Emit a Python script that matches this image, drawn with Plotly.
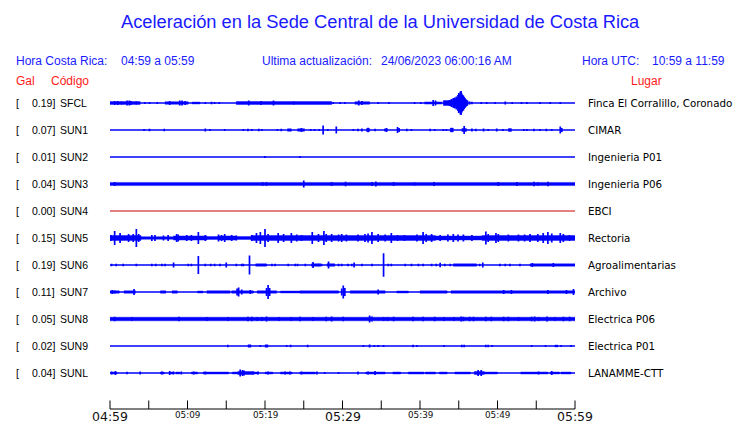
import plotly.graph_objects as go

# ---------------- data ----------------
codes = ["SFCL", "SUN1", "SUN2", "SUN3", "SUN4", "SUN5", "SUN6", "SUN7", "SUN8", "SUN9", "SUNL"]
gal = ["0.19", "0.07", "0.01", "0.04", "0.00", "0.15", "0.19", "0.11", "0.05", "0.02", "0.04"]
places = ["Finca El Corralillo, Coronado", "CIMAR", "Ingenieria P01", "Ingenieria P06", "EBCI",
          "Rectoria", "Agroalimentarias", "Archivo", "Electrica P06", "Electrica P01", "LANAMME-CTT"]

tick_minutes = [0, 5, 10, 15, 20, 25, 30, 35, 40, 45, 50, 55, 60]
time_label_minutes = [0, 10, 20, 30, 40, 50, 60]
time_labels = ["04:59", "05:09", "05:19", "05:29", "05:39", "05:49", "05:59"]
major_labels = ["04:59", "05:29", "05:59"]

# envelopes: bands (t_start_min, t_end_min, half amplitude) and spikes (t_min, half amplitude)
SFCL_bands = [(0.0, 3.9, 1.4), (7.1, 10.1, 1.3), (10.6, 11.6, 1.0), (16.3, 28.6, 1.5), (31.6, 33.5, 1.3),
              (40.6, 42.8, 1.1), (43.0, 46.2, 2.5)]
SFCL_spikes = [(0.6, 2.0), (1.0, 2.0), (1.5, 1.5), (2.2, 2.5), (2.5, 2.5), (2.7, 2.0), (3.4, 1.5), (4.5, 1.0),
               (5.1, 1.0), (6.1, 1.0), (7.7, 2.0), (9.0, 2.5), (9.3, 2.5), (9.7, 2.0), (12.3, 1.0), (13.1, 1.2),
               (13.5, 1.0), (14.1, 1.0), (17.9, 2.5), (19.5, 2.0), (21.1, 2.5), (23.7, 1.5), (28.8, 1.0),
               (29.7, 1.0), (30.3, 1.0), (32.1, 2.5), (32.5, 2.0), (34.6, 1.0), (36.0, 1.0), (39.3, 1.0),
               (40.1, 1.0), (41.7, 3.0), (42.0, 2.5), (43.2, 1.5), (43.4, 2.0), (43.6, 2.0), (43.8, 3.0),
               (44.0, 3.5), (44.1, 4.0), (44.3, 5.0), (44.4, 4.0), (44.5, 5.5), (44.6, 4.5), (44.7, 6.5),
               (44.8, 5.5), (44.9, 8.0), (45.0, 10.0), (45.1, 9.0), (45.2, 11.5), (45.3, 12.0), (45.4, 9.5),
               (45.5, 8.0), (45.6, 7.5), (45.7, 6.0), (45.8, 5.0), (45.9, 4.0), (46.0, 3.0), (46.1, 2.0),
               (46.4, 1.5), (46.7, 1.3), (47.9, 1.0), (48.6, 1.0), (49.7, 1.0), (51.0, 1.5), (51.9, 1.0),
               (53.1, 1.0), (53.8, 1.0), (55.5, 1.0), (56.8, 1.0), (58.1, 1.0)]

SUN1_bands = [(22.9, 23.4, 1.3), (24.2, 25.1, 1.3), (33.1, 33.5, 1.5), (43.9, 44.3, 2.0), (45.4, 46.0, 1.5),
              (51.4, 51.8, 1.5)]
SUN1_spikes = [(4.4, 1.0), (5.1, 1.3), (7.0, 1.3), (12.3, 1.5), (12.9, 1.0), (14.8, 1.0), (17.2, 1.0),
               (17.8, 1.3), (18.3, 1.0), (19.2, 1.3), (19.6, 1.0), (21.6, 1.0), (22.1, 1.3), (24.7, 2.0),
               (25.9, 1.0), (26.4, 1.0), (27.0, 1.0), (27.5, 4.5), (28.1, 1.0), (29.2, 3.5), (31.4, 1.0),
               (32.0, 1.3), (32.5, 1.5), (33.3, 2.3), (34.2, 1.3), (35.5, 1.5), (35.7, 2.0), (37.1, 3.0),
               (37.3, 2.0), (38.3, 1.2), (38.9, 1.0), (41.3, 1.3), (41.9, 1.0), (43.0, 1.0), (43.4, 1.0),
               (45.7, 4.0), (46.7, 1.5), (47.2, 1.2), (48.2, 1.5), (48.8, 1.0), (49.9, 1.5), (50.7, 1.0),
               (53.4, 1.0), (53.8, 1.0), (54.7, 1.3), (55.5, 1.0), (56.3, 1.3), (57.0, 1.0), (58.1, 3.5),
               (58.3, 2.0)]

SUN2_bands = []
SUN2_spikes = [(20.0, 0.9), (24.5, 0.9)]

SUN3_bands = [(0.0, 60.0, 1.6)]
SUN3_spikes = [(0.6, 2.0), (19.7, 1.8), (20.2, 1.8), (25.0, 3.5), (28.6, 2.0), (30.4, 2.3), (33.8, 2.0),
               (34.3, 2.5), (36.6, 2.0), (39.3, 1.5), (41.8, 2.0), (50.1, 2.0), (52.5, 2.0), (54.7, 2.3),
               (55.2, 1.8), (56.5, 2.3)]

SUN4_bands = []
SUN4_spikes = []

SUN5_bands = [(0.0, 4.0, 2.5), (4.0, 8.2, 1.3), (8.2, 12.5, 2.1), (12.5, 14.0, 1.4), (14.0, 16.3, 2.1),
              (16.3, 18.2, 1.4), (18.2, 42.0, 2.5), (42.0, 48.0, 2.0), (48.0, 60.0, 2.5)]
SUN5_spikes = [(0.1, 3.0), (0.6, 7.0), (1.3, 5.0), (2.4, 4.0), (3.0, 4.0), (3.4, 9.0), (3.7, 4.0), (5.4, 3.0),
               (5.8, 3.0), (6.9, 2.5), (7.5, 3.0), (8.6, 4.0), (8.8, 3.5), (9.9, 3.0), (10.5, 3.0), (11.4, 6.0),
               (12.3, 3.0), (14.0, 3.5), (14.4, 3.0), (14.8, 4.0), (15.7, 3.0), (16.3, 2.5), (18.3, 3.0),
               (18.9, 5.0), (19.4, 6.0), (20.0, 9.0), (20.4, 4.0), (21.7, 5.0), (22.4, 4.0), (23.4, 5.0),
               (24.1, 3.5), (24.7, 3.0), (26.1, 6.0), (26.9, 4.0), (27.6, 7.0), (27.9, 4.0), (28.6, 4.0),
               (29.5, 3.5), (29.9, 4.0), (30.5, 3.5), (32.0, 3.5), (32.9, 4.0), (33.3, 4.5), (33.8, 6.0),
               (34.6, 4.0), (35.5, 3.5), (36.3, 5.0), (37.1, 3.0), (38.0, 3.0), (39.6, 3.5), (40.4, 6.0),
               (40.8, 4.0), (41.5, 4.0), (42.6, 3.0), (43.6, 3.5), (44.3, 4.0), (44.9, 3.5), (45.6, 3.5),
               (46.7, 3.0), (48.5, 6.5), (48.8, 4.0), (49.8, 5.0), (50.1, 4.0), (51.4, 3.5), (52.7, 3.5),
               (53.5, 3.5), (54.2, 4.0), (55.2, 4.0), (55.9, 5.0), (56.5, 6.0), (57.0, 4.5), (58.1, 5.0),
               (58.5, 4.0), (59.3, 3.0)]

SUN6_bands = [(18.8, 20.2, 1.2), (26.0, 27.2, 1.3), (28.0, 29.0, 1.3), (44.3, 47.3, 1.2), (54.2, 60.0, 1.2)]
SUN6_spikes = [(0.2, 1.2), (0.8, 1.2), (1.7, 1.2), (3.4, 1.2), (5.4, 1.2), (5.9, 1.2), (6.7, 1.2), (7.1, 1.2),
               (8.2, 2.5), (10.1, 1.2), (10.5, 1.2), (11.4, 9.0), (12.3, 1.2), (13.0, 1.2), (13.5, 1.2),
               (14.2, 1.2), (15.0, 2.5), (16.3, 1.2), (17.0, 1.2), (17.2, 1.2), (18.0, 9.5), (20.9, 1.2),
               (21.3, 1.2), (23.0, 1.2), (23.9, 1.2), (24.2, 1.2), (25.2, 1.2), (26.2, 3.0), (26.9, 1.2),
               (27.3, 1.2), (28.2, 3.5), (29.5, 1.2), (29.9, 1.2), (30.7, 1.2), (31.2, 1.2), (31.5, 2.5),
               (32.5, 1.2), (33.8, 1.2), (35.3, 11.7), (35.9, 1.2), (36.3, 1.2), (38.1, 1.2), (38.9, 1.2),
               (39.8, 1.2), (40.4, 1.2), (41.5, 1.2), (42.1, 1.2), (42.6, 2.2), (43.2, 1.2), (43.9, 1.2),
               (47.7, 1.2), (48.1, 2.5), (50.3, 1.2), (51.0, 1.2), (51.6, 1.2), (52.9, 1.2), (54.5, 2.0),
               (57.2, 2.0)]

SUN7_bands = [(0.0, 1.2, 1.2), (1.8, 3.3, 1.2), (6.5, 7.2, 1.2), (8.0, 8.7, 1.2), (11.3, 12.0, 1.0),
              (12.5, 15.5, 1.3), (15.7, 18.5, 1.2), (19.0, 20.5, 1.3), (20.5, 21.5, 1.2), (22.0, 24.5, 1.0),
              (24.5, 29.5, 1.2), (31.0, 35.5, 1.3), (37.0, 38.5, 1.0), (40.0, 43.5, 1.2), (44.0, 60.0, 1.3)]
SUN7_spikes = [(0.3, 2.0), (0.6, 1.5), (3.1, 3.0), (16.4, 3.5), (16.6, 4.5), (17.0, 2.5), (18.1, 2.0),
               (20.2, 4.0), (20.4, 7.0), (20.6, 4.0), (29.9, 3.5), (30.1, 6.5), (30.3, 4.0), (34.6, 2.5),
               (50.8, 2.0), (51.8, 2.0), (56.5, 2.0), (58.9, 2.0), (59.8, 3.0)]

SUN8_bands = [(0.0, 60.0, 1.8)]
SUN8_spikes = [(0.6, 2.3), (2.8, 2.0), (8.9, 2.3), (12.5, 2.0), (15.2, 2.0), (17.8, 2.3), (18.3, 2.3),
               (19.0, 2.0), (19.6, 2.0), (20.2, 2.5), (21.8, 2.0), (23.4, 2.0), (24.5, 2.3), (26.2, 2.0),
               (27.9, 2.3), (28.6, 2.5), (30.1, 2.3), (33.5, 3.5), (33.8, 2.5), (35.3, 2.0), (35.8, 2.0),
               (36.6, 2.3), (39.1, 2.3), (40.4, 2.3), (41.9, 2.3), (43.1, 2.0), (44.4, 2.0), (45.3, 2.5),
               (45.6, 2.3), (46.4, 2.3), (46.9, 2.3), (48.5, 2.3), (49.2, 2.3), (50.8, 2.3), (51.4, 2.3),
               (52.7, 2.0), (54.4, 2.3), (54.8, 2.5), (55.3, 2.0), (56.4, 2.5), (57.4, 2.0), (58.5, 2.3),
               (59.3, 2.3)]

SUN9_bands = [(17.8, 18.2, 1.3), (20.0, 20.4, 1.3), (57.4, 57.8, 1.0)]
SUN9_spikes = [(15.2, 1.2), (19.4, 1.0), (22.8, 1.0), (23.3, 1.2), (25.5, 1.3), (32.7, 1.0), (33.5, 1.5),
               (34.1, 1.0), (34.6, 1.0), (35.3, 1.0), (39.1, 1.3), (39.6, 1.0), (43.1, 1.0), (45.4, 1.3),
               (45.7, 1.3), (48.5, 1.3), (48.8, 1.3), (49.3, 1.0), (54.4, 1.0), (56.2, 1.0), (58.2, 1.0),
               (59.5, 1.0)]

SUNL_bands = [(0.1, 0.9, 1.0), (6.5, 7.0, 1.0), (7.8, 8.2, 1.0), (8.5, 9.0, 1.0), (10.5, 11.3, 1.0),
              (12.0, 15.3, 1.0), (15.8, 16.5, 1.0), (16.5, 18.5, 1.5), (18.5, 19.2, 1.0), (20.0, 21.0, 1.0),
              (22.0, 23.5, 1.0), (24.5, 26.5, 1.0), (33.0, 35.5, 1.0), (36.5, 37.5, 1.0), (38.5, 40.5, 1.0),
              (40.7, 42.0, 1.0), (42.5, 43.5, 1.0), (44.5, 46.5, 1.0), (47.0, 48.3, 1.5), (48.3, 50.0, 1.0),
              (53.0, 56.5, 1.0), (56.8, 58.0, 1.0), (58.2, 59.5, 1.0)]
SUNL_spikes = [(0.2, 1.5), (0.7, 2.0), (2.2, 1.3), (3.9, 1.5), (6.7, 1.5), (7.7, 2.0), (8.2, 1.5), (9.2, 1.5),
               (10.8, 1.5), (12.3, 1.5), (14.4, 1.0), (15.1, 1.0), (16.8, 3.5), (17.1, 3.0), (17.3, 2.5),
               (18.5, 1.5), (19.1, 1.5), (20.4, 1.5), (22.6, 1.5), (23.2, 1.5), (24.7, 1.5), (26.7, 1.5),
               (27.7, 1.0), (29.5, 1.0), (32.0, 1.5), (33.3, 1.5), (34.2, 2.0), (47.5, 3.0), (47.9, 3.0),
               (55.3, 1.5), (57.0, 2.0)]

BANDS = {"SFCL": SFCL_bands, "SUN1": SUN1_bands, "SUN2": SUN2_bands, "SUN3": SUN3_bands,
         "SUN4": SUN4_bands, "SUN5": SUN5_bands, "SUN6": SUN6_bands, "SUN7": SUN7_bands,
         "SUN8": SUN8_bands, "SUN9": SUN9_bands, "SUNL": SUNL_bands}
SPIKES = {"SFCL": SFCL_spikes, "SUN1": SUN1_spikes, "SUN2": SUN2_spikes, "SUN3": SUN3_spikes,
          "SUN4": SUN4_spikes, "SUN5": SUN5_spikes, "SUN6": SUN6_spikes, "SUN7": SUN7_spikes,
          "SUN8": SUN8_spikes, "SUN9": SUN9_spikes, "SUNL": SUNL_spikes}

# ---------------- layout constants ----------------
W, H = 740, 423
X0, X1 = 110, 575
ROW_TOP, ROW_STEP, ROW_HALF = 103, 27, 13.5
AXIS_Y, TICK_LEN = 409, 8.5
BLUE = "#0000ff"
RED = "#c80000"
TXT_BLUE = "#1a1aff"
T_START, T_END = 0, 60


def py(pix):
    return 1 - pix / H


def px(pix):
    return pix / W


fig = go.Figure()
layout_axes = {}
for i, code in enumerate(codes):
    xa = "x" if i == 0 else f"x{i + 1}"
    ya = "y" if i == 0 else f"y{i + 1}"
    col = RED if code == "SUN4" else BLUE
    yc = ROW_TOP + ROW_STEP * i
    fig.add_trace(go.Scatter(x=[T_START, T_END], y=[0, 0], mode="lines",
                             line=dict(color=col, width=1.3 if code != "SUN4" else 1.1),
                             xaxis=xa, yaxis=ya, hoverinfo="skip", showlegend=False))
    bands = BANDS[code]
    if bands:
        bx, by = [], []
        for t0, t1, a in bands:
            bx += [t0, t1, t1, t0, t0, None]
            by += [-a, -a, a, a, -a, None]
        fig.add_trace(go.Scatter(x=bx, y=by, mode="lines", fill="toself", fillcolor=col,
                                 line=dict(color=col, width=0.4), xaxis=xa, yaxis=ya,
                                 hoverinfo="skip", showlegend=False))
    spikes = SPIKES[code]
    if spikes:
        sx, sy = [], []
        for t, a in spikes:
            sx += [t, t, None]
            sy += [-a, a, None]
        fig.add_trace(go.Scatter(x=sx, y=sy, mode="lines", line=dict(color=col, width=1.7),
                                 xaxis=xa, yaxis=ya, hoverinfo="skip", showlegend=False))
    kx = "xaxis" if i == 0 else f"xaxis{i + 1}"
    ky = "yaxis" if i == 0 else f"yaxis{i + 1}"
    layout_axes[kx] = dict(domain=[px(X0), px(X1)], range=[T_START, T_END], visible=False,
                           anchor=ya, fixedrange=True)
    layout_axes[ky] = dict(domain=[py(yc + ROW_HALF), py(yc - ROW_HALF)], range=[-ROW_HALF, ROW_HALF],
                           visible=False, anchor=xa, fixedrange=True)

# time axis: own subplot in pixel-like units (y=0 is the axis line)
n = len(codes) + 1
AX_PAD = 3
tx, ty = [T_START, T_END, None], [0, 0, None]
for m in tick_minutes:
    tx += [m, m, None]
    ty += [0, TICK_LEN, None]
fig.add_trace(go.Scatter(x=tx, y=ty, mode="lines", line=dict(color="black", width=1),
                         xaxis=f"x{n}", yaxis=f"y{n}", hoverinfo="skip", showlegend=False))
layout_axes[f"xaxis{n}"] = dict(domain=[px(X0 - AX_PAD), px(X1 + AX_PAD)],
                                range=[T_START - AX_PAD * (T_END - T_START) / (X1 - X0),
                                       T_END + AX_PAD * (T_END - T_START) / (X1 - X0)],
                                anchor=f"y{n}", visible=False, fixedrange=True)
layout_axes[f"yaxis{n}"] = dict(domain=[py(AXIS_Y + AX_PAD), py(AXIS_Y - TICK_LEN - AX_PAD)],
                                range=[-AX_PAD, TICK_LEN + AX_PAD], visible=False,
                                anchor=f"x{n}", fixedrange=True)

ann = []
for m, lab in zip(time_label_minutes, time_labels):
    big = lab in major_labels
    ann.append(dict(x=m, y=py(416 if big else 414.5), xref=f"x{n}", yref="paper", text=lab, showarrow=False,
                    xanchor="center", yanchor="middle",
                    font=dict(family="DejaVu Sans", size=12.5 if big else 8.8, color="#111111")))

# title & header
ann.append(dict(x=px(381), y=py(22), xref="paper", yref="paper", showarrow=False, xanchor="center",
                yanchor="middle", text="Aceleración en la Sede Central de la Universidad de Costa Rica",
                font=dict(family="Liberation Sans", size=18.3, color=TXT_BLUE)))
hdr = dict(family="Liberation Sans", size=12, color=TXT_BLUE)
ann.append(dict(x=px(15), y=py(61), xref="paper", yref="paper", showarrow=False, xanchor="left",
                yanchor="middle", text="Hora Costa Rica:", font=hdr))
ann.append(dict(x=px(120), y=py(61), xref="paper", yref="paper", showarrow=False, xanchor="left",
                yanchor="middle", text="04:59 a 05:59", font=hdr))
ann.append(dict(x=px(260.5), y=py(61), xref="paper", yref="paper", showarrow=False, xanchor="left",
                yanchor="middle", text="Ultima actualización:", font=hdr))
ann.append(dict(x=px(380), y=py(61), xref="paper", yref="paper", showarrow=False, xanchor="left",
                yanchor="middle", text="24/06/2023 06:00:16 AM", font=hdr))
ann.append(dict(x=px(580.5), y=py(61), xref="paper", yref="paper", showarrow=False, xanchor="left",
                yanchor="middle", text="Hora UTC:", font=hdr))
ann.append(dict(x=px(650.5), y=py(61), xref="paper", yref="paper", showarrow=False, xanchor="left",
                yanchor="middle", text="10:59 a 11:59", font=hdr))
redf = dict(family="Liberation Sans", size=12, color="#ff1a1a")
ann.append(dict(x=px(15), y=py(81), xref="paper", yref="paper", showarrow=False, xanchor="left",
                yanchor="middle", text="Gal", font=redf))
ann.append(dict(x=px(50), y=py(81), xref="paper", yref="paper", showarrow=False, xanchor="left",
                yanchor="middle", text="Código", font=redf))
ann.append(dict(x=px(646), y=py(81), xref="paper", yref="paper", showarrow=False, xanchor="center",
                yanchor="middle", text="Lugar", font=redf))

lf = dict(family="Liberation Sans", size=10.5, color="black")
rf = dict(family="DejaVu Sans", size=10.3, color="black")
for i, code in enumerate(codes):
    yc = ROW_TOP + ROW_STEP * i
    ann.append(dict(x=px(15), y=py(yc), xref="paper", yref="paper", showarrow=False, xanchor="left",
                    yanchor="middle", text="[", font=lf))
    ann.append(dict(x=px(55.5), y=py(yc), xref="paper", yref="paper", showarrow=False, xanchor="right",
                    yanchor="middle", text=gal[i] + "]", font=lf))
    ann.append(dict(x=px(58.5), y=py(yc), xref="paper", yref="paper", showarrow=False, xanchor="left",
                    yanchor="middle", text=code, font=lf))
    ann.append(dict(x=px(587), y=py(yc), xref="paper", yref="paper", showarrow=False, xanchor="left",
                    yanchor="middle", text=places[i], font=rf))

for a in ann:
    a["borderpad"] = 0

fig.update_layout(width=W, height=H, margin=dict(l=0, r=0, t=0, b=0), paper_bgcolor="white",
                  plot_bgcolor="rgba(0,0,0,0)", showlegend=False, annotations=ann,
                  **layout_axes)
fig.write_html("out.html", config={"displayModeBar": False},
               post_script="document.body.style.margin='0';document.body.style.padding='0';"
                           "document.body.style.overflow='hidden';")
